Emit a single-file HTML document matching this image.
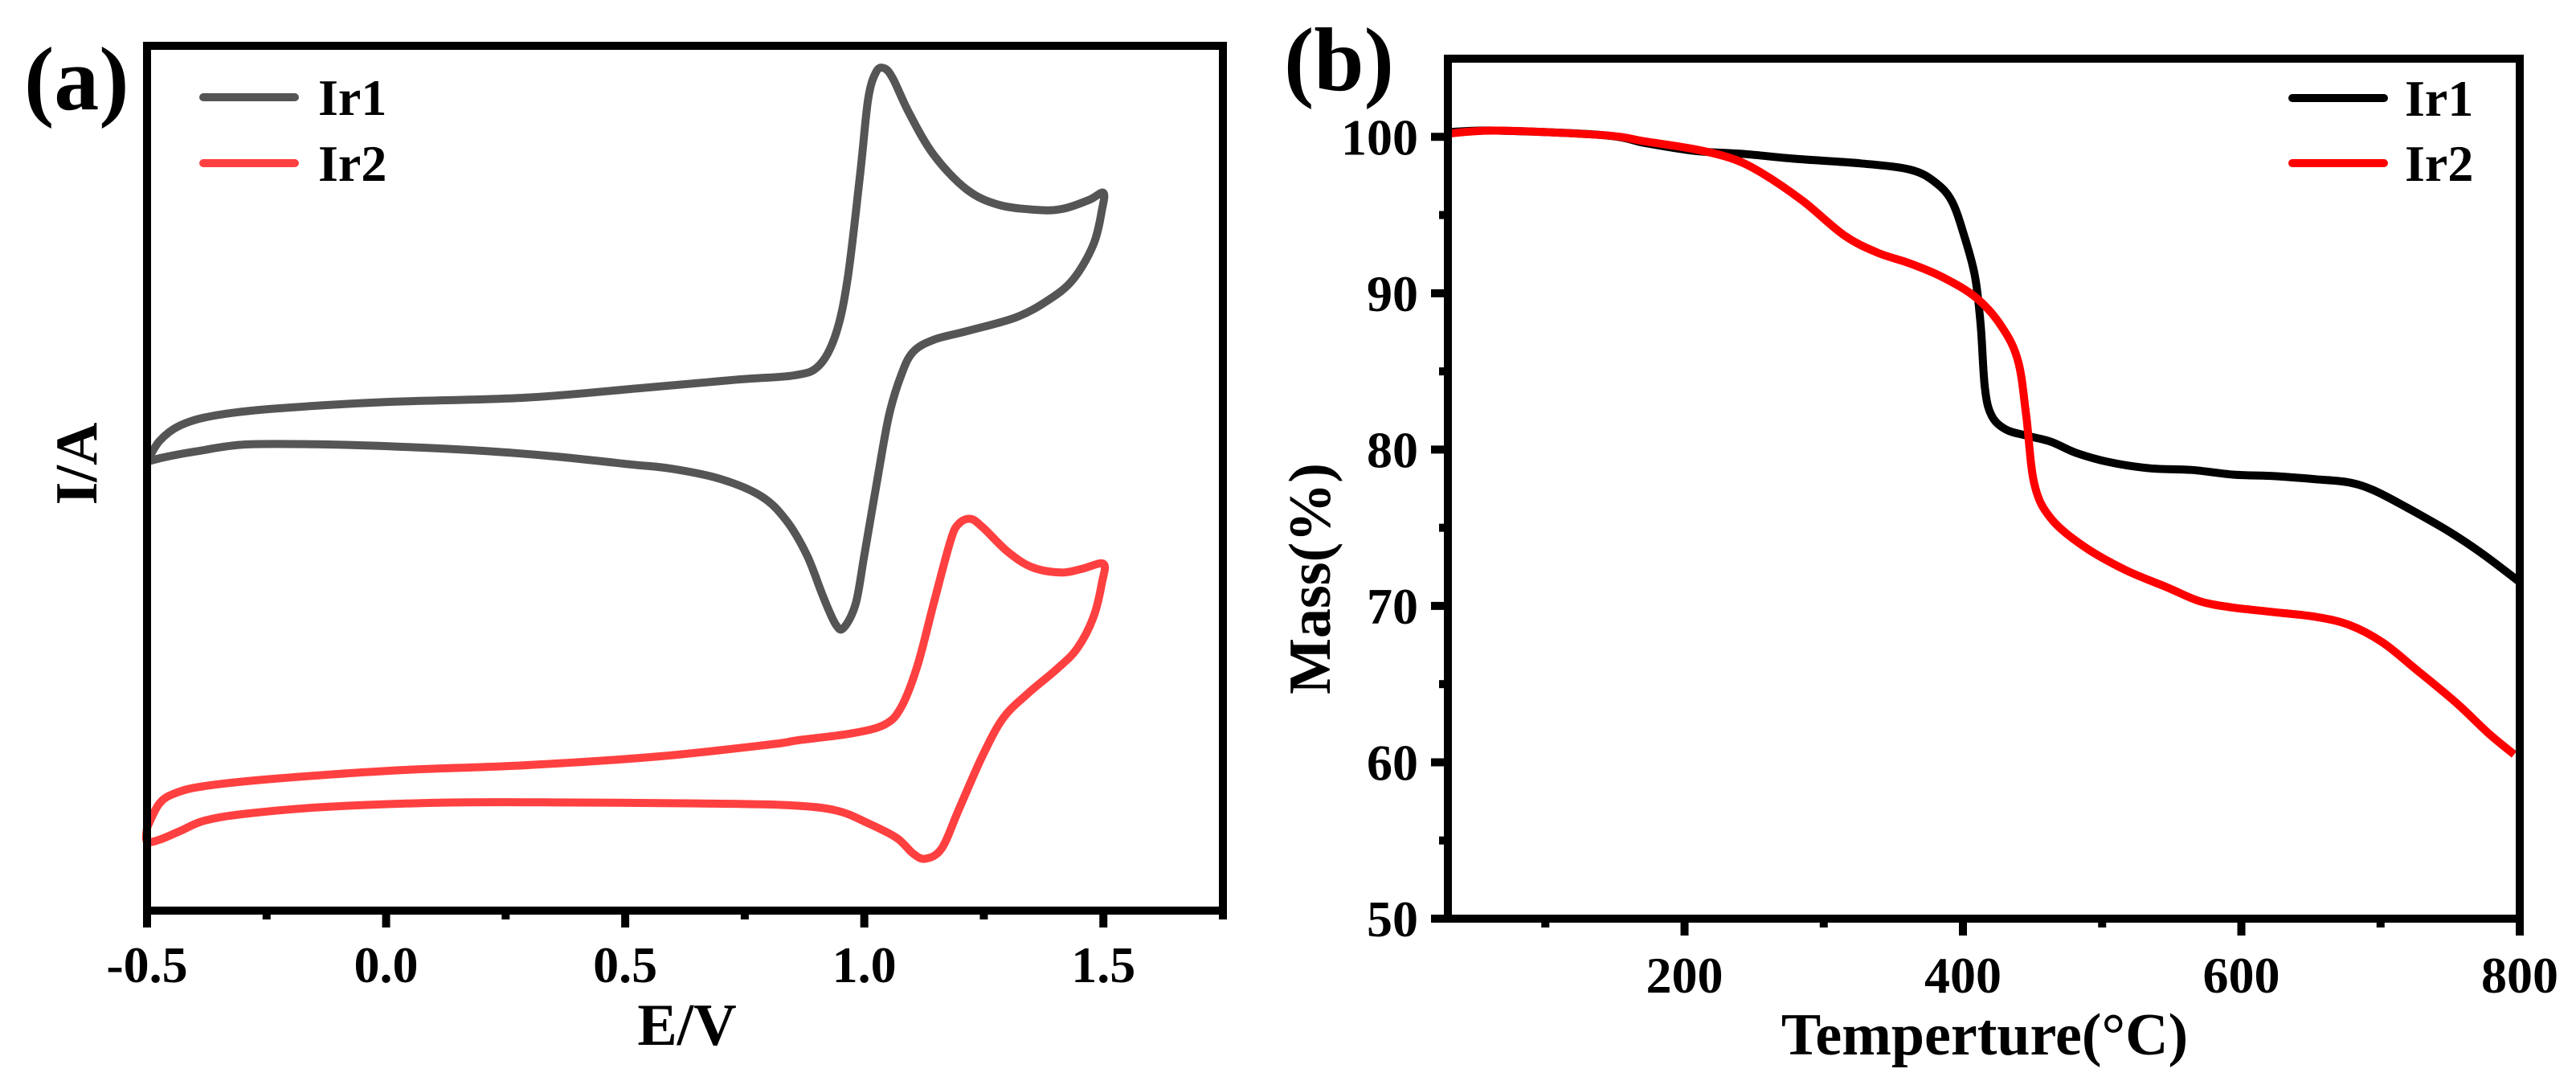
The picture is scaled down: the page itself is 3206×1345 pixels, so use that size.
<!DOCTYPE html>
<html><head><meta charset="utf-8"><style>
html,body{margin:0;padding:0;background:#fff;}
svg{display:block;font-family:"Liberation Serif","Times New Roman",serif;font-weight:bold;}
</style></head><body>
<svg id="fig" width="3206" height="1345" viewBox="0 0 3206 1345">
<g id="pa"></g>
<g id="pb"></g>
</svg>
<script>
// Panel (a) CV data
const cvE1 = [-0.5,-0.474,-0.431,-0.363,-0.243,-0.003,0.288,0.528,0.734,0.854,0.905,0.94,0.965,0.991,1.008,1.025,1.042,1.06,1.094,1.145,1.214,1.282,1.368,1.419,1.471,1.5,1.497,1.479,1.437,1.385,1.317,1.214,1.145,1.102,1.077,1.051,1.025,1.0,0.982,0.957,0.94,0.914,0.88,0.837,0.785,0.7,0.597,0.511,0.357,0.22,0.048,-0.123,-0.294,-0.397,-0.466,-0.5];
const cvI1 = [51.9,54.3,56.1,57.2,58.0,58.8,59.3,60.4,61.4,61.9,63.0,66.6,73.0,85.0,93.8,97.0,97.4,96.2,92.2,87.4,83.4,81.6,81.0,81.2,82.2,83.0,81.0,77.0,73.0,70.6,68.6,67.0,66.0,64.6,61.9,57.1,49.1,41.1,35.5,32.7,33.1,36.3,41.1,45.1,47.9,49.9,51.1,51.6,52.5,53.1,53.6,53.9,53.9,53.1,52.4,51.9];
const cvE2 = [-0.5,-0.474,-0.44,-0.38,-0.243,0.014,0.288,0.563,0.802,0.862,0.974,1.042,1.077,1.111,1.145,1.18,1.197,1.222,1.248,1.3,1.351,1.411,1.454,1.5,1.497,1.479,1.445,1.402,1.342,1.291,1.248,1.197,1.162,1.128,1.102,1.068,1.008,0.94,0.837,0.648,0.391,0.134,-0.123,-0.294,-0.38,-0.431,-0.474,-0.5,-0.5];
const cvI2 = [9.6,12.4,13.6,14.4,15.2,16.2,16.8,17.8,19.2,19.7,20.5,21.5,23.5,28.3,35.5,42.7,44.7,45.3,44.3,41.5,39.7,39.1,39.5,40.1,37.9,33.9,30.3,27.9,25.1,22.3,18.0,11.6,7.2,6.0,6.6,8.4,10.1,11.6,12.2,12.4,12.5,12.5,12.0,11.2,10.4,9.2,8.2,8.0,9.6];
const cvMajorTicks = [-0.5,0.0,0.5,1.0,1.5];
const cvTickLabels = ["-0.5","0.0","0.5","1.0","1.5"];
const cvMinorTicks = [-0.25,0.25,0.75,1.25,1.75];
// Panel (b) TGA data
const tgaT1 = [29.5,65.1,142.4,172.1,207.7,243.4,279.0,326.6,362.2,380.0,391.9,400.8,408.6,412.7,415.7,420.4,430.5,445.4,463.2,481.0,504.8,534.5,564.2,593.9,623.7,653.4,677.1,694.9,718.7,748.4,772.2,798.9];
const tgaM1 = [100.3,100.4,100.1,99.6,99.1,98.9,98.6,98.3,97.9,97.1,95.9,93.7,91.1,88.0,84.0,82.2,81.3,80.9,80.5,79.8,79.2,78.8,78.7,78.4,78.3,78.1,77.9,77.4,76.3,74.8,73.4,71.6];
const tgaT2 = [29.5,65.1,142.4,172.1,207.7,234.5,255.3,285.0,314.7,338.4,362.2,386.0,409.7,427.6,439.5,445.4,451.3,463.2,487.0,516.7,546.4,570.2,593.9,623.7,653.4,677.1,700.9,724.7,754.4,778.2,796.0];
const tgaM2 = [100.2,100.4,100.1,99.7,99.2,98.6,97.7,95.9,93.7,92.6,91.9,91.0,89.7,87.9,85.7,82.2,77.8,75.6,73.8,72.3,71.2,70.3,69.9,69.6,69.3,68.8,67.7,66.0,63.8,61.8,60.5];
const tgaXTicks = [200,400,600,800];
const tgaXLabels = ["200","400","600","800"];
const tgaXMinor = [100,300,500,700];
const tgaYTicks = [50,60,70,80,90,100];
const tgaYLabels = ["50","60","70","80","90","100"];
const tgaYMinor = [55,65,75,85,95];

const NS="http://www.w3.org/2000/svg";
function mk(parent,tag,attrs,text){const e=document.createElementNS(NS,tag);for(const k in attrs)e.setAttribute(k,attrs[k]);if(text!==undefined)e.textContent=text;parent.appendChild(e);return e;}
function pathFrom(xs,ys,fx,fy){
  const p=xs.map((v,i)=>[fx(v),fy(ys[i])]);
  let d='M'+p[0][0].toFixed(1)+' '+p[0][1].toFixed(1);
  for(let i=0;i<p.length-1;i++){
    const p0=p[Math.max(0,i-1)],p1=p[i],p2=p[i+1],p3=p[Math.min(p.length-1,i+2)];
    const t=1/6;
    const c1=[p1[0]+(p2[0]-p0[0])*t,p1[1]+(p2[1]-p0[1])*t];
    const c2=[p2[0]-(p3[0]-p1[0])*t,p2[1]-(p3[1]-p1[1])*t];
    d+=' C'+c1[0].toFixed(1)+' '+c1[1].toFixed(1)+' '+c2[0].toFixed(1)+' '+c2[1].toFixed(1)+' '+p2[0].toFixed(1)+' '+p2[1].toFixed(1);
  }
  return d;
}

// ---- Panel a ----
const pa=document.getElementById('pa');
const aL=183,aR=1522,aT=57,aB=1133;
const ax=e=>aL+(e+0.5)/2.25*(aR-aL);
const ay=v=>aB-v/100*(aB-aT);
let el;
el=mk(pa,'path',{d:pathFrom(cvE1,cvI1,ax,ay),fill:'none',stroke:'#555555','stroke-width':10,'stroke-linejoin':'round'});


el=mk(pa,'path',{d:pathFrom(cvE2,cvI2,ax,ay),fill:'none',stroke:'#ff4040','stroke-width':10,'stroke-linejoin':'round'});


el=mk(pa,'rect',{x:aL,y:aT,width:aR-aL,height:aB-aT,fill:'none',stroke:'#000','stroke-width':10});


cvMajorTicks.forEach((t,i)=>{
  el=mk(pa,'line',{x1:ax(t),x2:ax(t),y1:aB,y2:aB+21,stroke:'#000','stroke-width':10});
  
  
  el=mk(pa,'text',{x:ax(t),y:1222,'text-anchor':'middle','font-size':64},cvTickLabels[i]);
  
  
});
cvMinorTicks.forEach(t=>{
  el=mk(pa,'line',{x1:ax(t),x2:ax(t),y1:aB,y2:aB+11,stroke:'#000','stroke-width':10});
  
  
});
el=mk(pa,'text',{x:855,y:1300,'text-anchor':'middle','font-size':74},'E/V');


el=mk(pa,'text',{x:0,y:0,'text-anchor':'middle','font-size':74,transform:'translate(120,577) rotate(-90)'},'I/A');


el=mk(pa,'text',{x:30,y:136,'font-size':112},'(a)');


[['Ir1','#555555',121],['Ir2','#ff4040',203]].forEach(([n,c,y])=>{
  el=mk(pa,'line',{x1:253,x2:367,y1:y,y2:y,stroke:c,'stroke-width':10,'stroke-linecap':'round'});
  
  
  el=mk(pa,'text',{x:396,y:y+22,'font-size':64},n);
  
  
});

// ---- Panel b ----
const pb=document.getElementById('pb');
const bL=1802,bR=3136,bT=73,bB=1143;
const bx=t=>bR-(800-t)*((bR-bL)/770);
const by=m=>bB-(m-50)/55*(bB-bT);
el=mk(pb,'path',{d:pathFrom(tgaT1,tgaM1,bx,by),fill:'none',stroke:'#000','stroke-width':10,'stroke-linejoin':'round'});


el=mk(pb,'path',{d:pathFrom(tgaT2,tgaM2,bx,by),fill:'none',stroke:'#ff0000','stroke-width':10,'stroke-linejoin':'round'});


el=mk(pb,'rect',{x:bL,y:bT,width:bR-bL,height:bB-bT,fill:'none',stroke:'#000','stroke-width':10});


tgaXTicks.forEach((t,i)=>{
  el=mk(pb,'line',{x1:bx(t),x2:bx(t),y1:bB,y2:bB+21,stroke:'#000','stroke-width':10});
  
  
  el=mk(pb,'text',{x:bx(t),y:1235,'text-anchor':'middle','font-size':64},tgaXLabels[i]);
  
  
});
tgaXMinor.forEach(t=>{
  el=mk(pb,'line',{x1:bx(t),x2:bx(t),y1:bB,y2:bB+11,stroke:'#000','stroke-width':10});
  
  
});
tgaYTicks.forEach((m,i)=>{
  el=mk(pb,'line',{x1:bL-21,x2:bL,y1:by(m),y2:by(m),stroke:'#000','stroke-width':10});
  
  
  el=mk(pb,'text',{x:1765,y:by(m)+22,'text-anchor':'end','font-size':64},tgaYLabels[i]);
  
  
});
tgaYMinor.forEach(m=>{
  el=mk(pb,'line',{x1:bL-11,x2:bL,y1:by(m),y2:by(m),stroke:'#000','stroke-width':10});
  
  
});
el=mk(pb,'text',{x:2470,y:1312,'text-anchor':'middle','font-size':74},'Temperture(°C)');


el=mk(pb,'text',{x:0,y:0,'text-anchor':'middle','font-size':74,transform:'translate(1655,720) rotate(-90)'},'Mass(%)');


el=mk(pb,'text',{x:1598,y:112,'font-size':112},'(b)');


[['Ir1','#000000',122],['Ir2','#ff0000',203]].forEach(([n,c,y])=>{
  el=mk(pb,'line',{x1:2853,x2:2967,y1:y,y2:y,stroke:c,'stroke-width':10,'stroke-linecap':'round'});
  
  
  el=mk(pb,'text',{x:2993,y:y+22,'font-size':64},n);
  
  
});
</script>
</body></html>
